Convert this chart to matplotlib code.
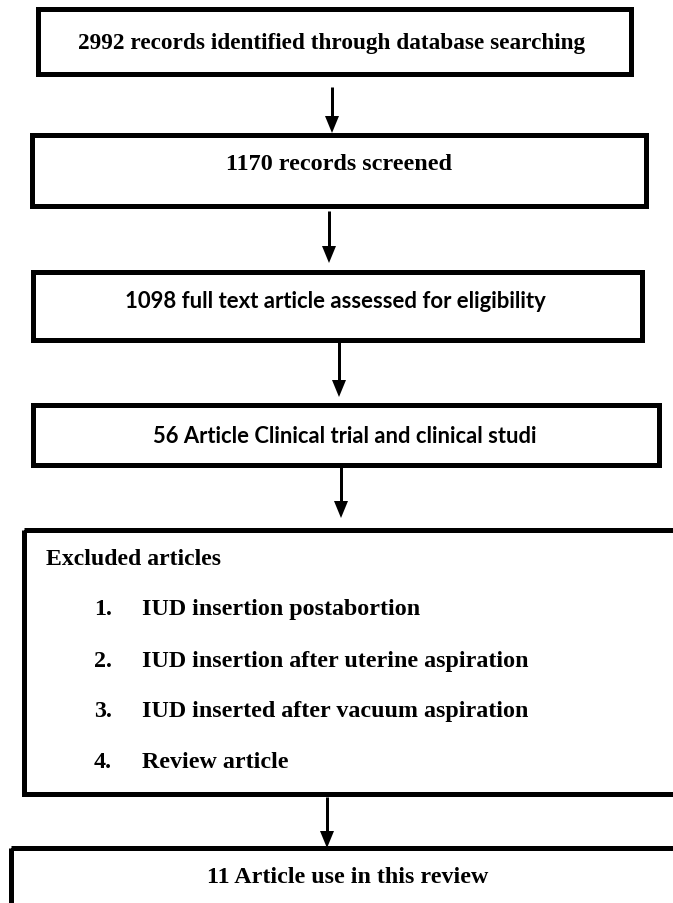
import matplotlib
matplotlib.use("Agg")
import matplotlib.pyplot as plt
from matplotlib.patches import Rectangle, Polygon

# ---- content ----
box_labels = [
    "2992 records identified through database searching",
    "1170 records screened",
    "1098 full text article assessed for eligibility",
    "56 Article Clinical trial and clinical studi",
    None,
    "11 Article use in this review",
]
excluded_title = "Excluded articles"
excluded_numbers = ["1.", "2.", "3.", "4."]
excluded_items = [
    "IUD insertion postabortion",
    "IUD insertion after uterine aspiration",
    "IUD inserted after vacuum aspiration",
    "Review article",
]

# ---- layout (pixels) ----
W, H = 673, 904
boxes = [  # left, top, right, bottom
    (38, 10, 631, 75),
    (32, 136, 646, 207),
    (33, 273, 642, 341),
    (33, 406, 659, 466),
    (24, 531, 700, 795),
    (11, 849, 700, 930),
]
text_y = [43, 165, 302, 437, None, 878]
text_x = [332, 339, 335, 345, None, 348]
fonts = ["serif", "serif", "sans", "sans", None, "serif"]
target_w = [509, 226, 423, 387, None, 281]
arrows = [  # x, y_start, y_end
    (332, 88, 134),
    (329, 212, 264),
    (339, 343, 398),
    (341, 468, 519),
    (327, 798, 849),
]

SERIF = ["Liberation Serif", "DejaVu Serif"]
SANS = ["Lato", "DejaVu Sans"]

fig = plt.figure(figsize=(W / 100, H / 100), dpi=100)
ax = fig.add_axes([0, 0, 1, 1])
ax.set_xlim(0, W)
ax.set_ylim(H, 0)
ax.axis("off")

lw_box = 5 * 72 / 100
for (l, t, r, b) in boxes:
    ax.add_patch(Rectangle((l, t), r - l, b - t, fill=False, edgecolor="black",
                           lw=lw_box, joinstyle="miter"))

for (x, y0, y1) in arrows:
    hl, hw = 17, 7
    ax.plot([x, x], [y0, y1 - hl + 1], color="black", lw=3 * 72 / 100,
            solid_capstyle="butt")
    ax.add_patch(Polygon([(x - hw, y1 - hl), (x + hw, y1 - hl), (x, y1)],
                         closed=True, color="black", lw=0))

fig.canvas.draw()
renderer = fig.canvas.get_renderer()


def fit_text(x, y, s, fam, target, ha="center", base=14):
    t = ax.text(x, y, s, ha=ha, va="center", fontsize=base, fontweight="bold",
                family=fam, color="black")
    w = t.get_window_extent(renderer).width
    t.set_fontsize(base * target / w)
    return t


for i, s in enumerate(box_labels):
    if s is None:
        continue
    fam = SERIF if fonts[i] == "serif" else SANS
    fit_text(text_x[i], text_y[i], s, fam, target_w[i])

fit_text(46, 560, excluded_title, SERIF, 176, ha="left")
item_y = [610, 662, 712, 763]
item_w = [277, 385, 385, 146]
t0 = fit_text(142, item_y[1], excluded_items[1], SERIF, item_w[1], ha="left")
fs = t0.get_fontsize()
for i, (n, s) in enumerate(zip(excluded_numbers, excluded_items)):
    ax.text(94, item_y[i], n, ha="left", va="center", fontsize=fs,
            fontweight="bold", family=SERIF)
    if i != 1:
        ax.text(142, item_y[i], s, ha="left", va="center", fontsize=fs,
                fontweight="bold", family=SERIF)

fig.savefig("out.png", dpi=100)
